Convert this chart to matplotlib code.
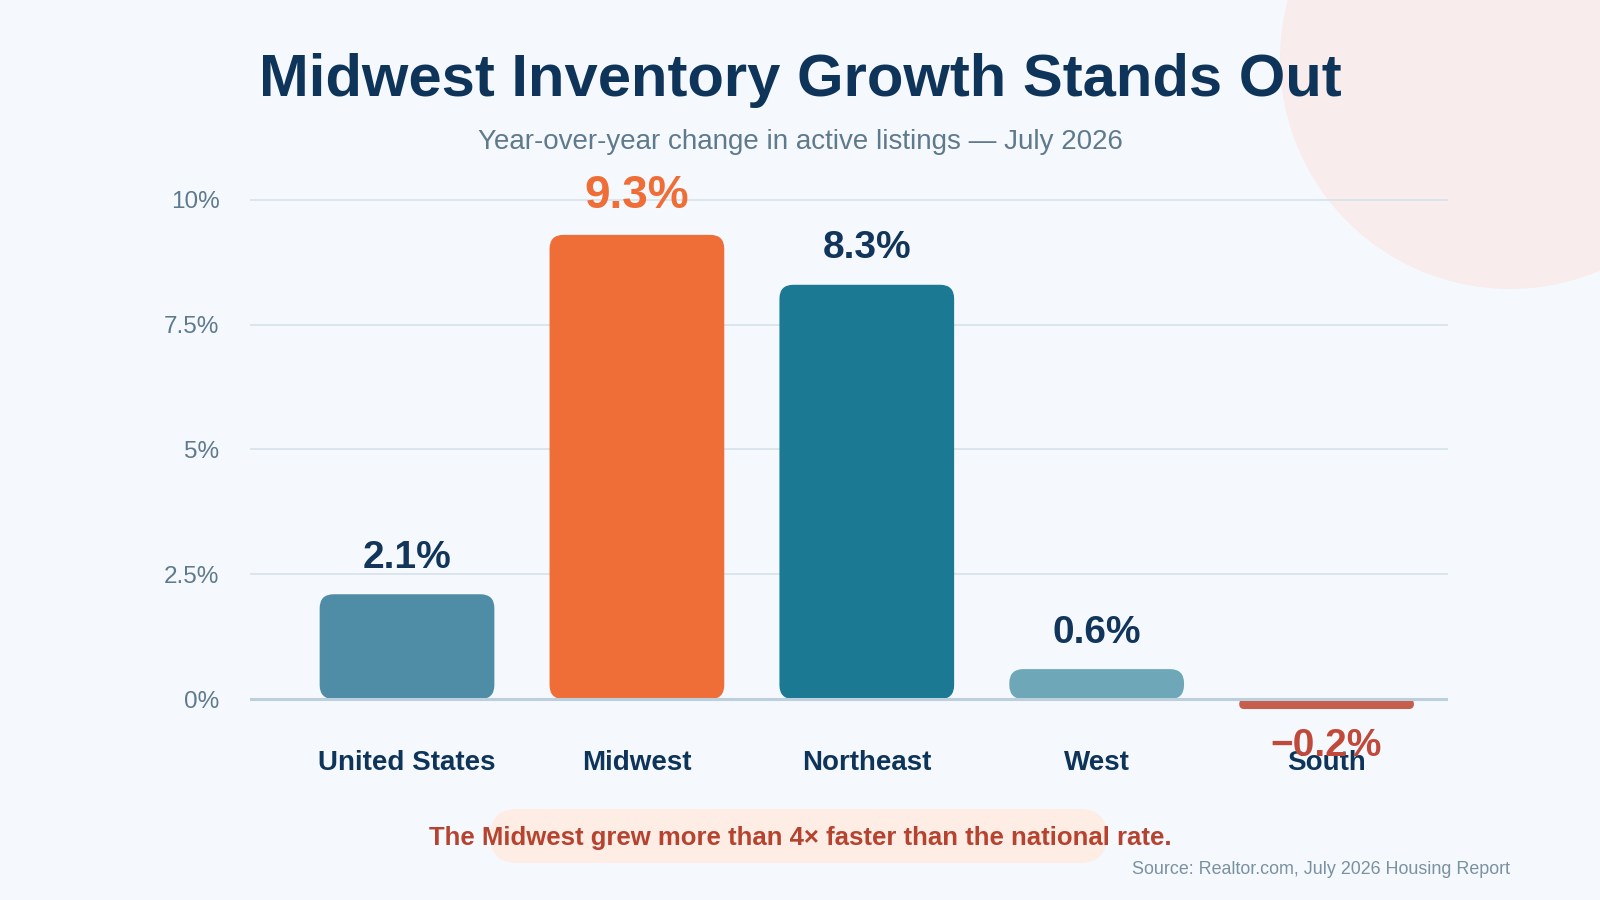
import matplotlib
matplotlib.use("Agg")
import matplotlib.pyplot as plt
from matplotlib.patches import FancyBboxPatch, Ellipse

plt.rcParams['font.family'] = ['Liberation Sans', 'DejaVu Sans']

# data
regions = ["United States", "Midwest", "Northeast", "West", "South"]
changes = [2.1, 9.3, 8.3, 0.6, -0.2]
bar_colors = ["#4F8DA6", "#EF6D37", "#1B7994", "#6EA7B8", "#C55E4C"]
label_colors = ["#12355B", "#EF6D37", "#12355B", "#12355B", "#C0493A"]
yticks = [0, 2.5, 5, 7.5, 10]
ytick_labels = ["0%", "2.5%", "5%", "7.5%", "10%"]

BG = "#F5F9FE"
NAVY = "#0F345A"
GREY = "#5F7A8C"

fig = plt.figure(figsize=(16, 9), dpi=100, facecolor=BG)

# soft decorative circle, top right (behind the axes)
fig.patches.append(Ellipse((1510 / 1600, 1 - 59 / 900), 2 * 230 / 1600, 2 * 230 / 900,
                           transform=fig.transFigure, facecolor="#F8ECEC", edgecolor="none", zorder=-1))

ax = fig.add_axes([0.15625, 0.1678, 0.749, 0.6378])
ax.set_facecolor("none")
ax.set_xlim(-0.683, 4.53)
ax.set_ylim(-1, 10.5)

# rounded bars
bar_w = 0.76
p0 = ax.transData.transform((0, 0))
p1 = ax.transData.transform((1, 1))
px_x = p1[0] - p0[0]
px_y = p1[1] - p0[1]
for i, (v, c) in enumerate(zip(changes, bar_colors)):
    h_px = abs(v) * px_y
    r_px = min(14, h_px / 2)
    y0 = min(0, v)
    box = FancyBboxPatch((i - bar_w / 2, y0), bar_w, abs(v),
                         boxstyle=f"round,pad=0,rounding_size={r_px / px_x}",
                         mutation_aspect=px_x / px_y,
                         facecolor=c, edgecolor="none", zorder=3)
    ax.add_patch(box)

# value labels
for i, v in enumerate(changes):
    txt = f"{v:.1f}%" if v >= 0 else f"\u2212{abs(v):.1f}%"
    size = 33 if i == 1 else 28
    if v >= 0:
        ax.annotate(txt, (i, v), xytext=(0, 19), textcoords="offset points",
                    ha="center", va="baseline", fontsize=size, fontweight="bold",
                    color=label_colors[i], zorder=5)
    else:
        ax.annotate(txt, (i, v), xytext=(0, -34), textcoords="offset points",
                    ha="center", va="baseline", fontsize=size, fontweight="bold",
                    color=label_colors[i], zorder=6, annotation_clip=False)

# category labels
for i, name in enumerate(regions):
    ax.text(i, -1.42, name, ha="center", va="baseline", fontsize=20,
            fontweight="bold", color=NAVY, zorder=5, clip_on=False)

# grid + axes styling
ax.set_yticks(yticks)
ax.set_yticklabels(ytick_labels)
ax.set_xticks([])
for y in yticks[1:]:
    ax.axhline(y, color="#D8E4EA", linewidth=1.3, zorder=1)
ax.axhline(0, color="#BCCFDC", linewidth=2.2, zorder=4)
ax.tick_params(axis="y", length=0, pad=22, labelsize=17.5, labelcolor=GREY)
for s in ax.spines.values():
    s.set_visible(False)

# titles
fig.text(0.5, 1 - 81 / 900, "Midwest Inventory Growth Stands Out", ha="center", va="center",
         fontsize=43, fontweight="bold", color=NAVY)
fig.text(0.5, 1 - 142 / 900, "Year-over-year change in active listings \u2014 July 2026",
         ha="center", va="center", fontsize=20, color=GREY)

# callout pill
fig.patches.append(FancyBboxPatch((490 / 1600, 1 - 863 / 900), 617 / 1600, 54 / 900,
                                  boxstyle="round,pad=0,rounding_size=0.016875",
                                  mutation_aspect=1600 / 900,
                                  transform=fig.transFigure, facecolor="#FDEDE5",
                                  edgecolor="none", zorder=1))
fig.text(0.5, 1 - 838 / 900, "The Midwest grew more than 4\u00d7 faster than the national rate.",
         ha="center", va="center", fontsize=18.5, fontweight="bold", color="#B5432F", zorder=2)

fig.text(1510 / 1600, 1 - 869 / 900, "Source: Realtor.com, July 2026 Housing Report",
         ha="right", va="center", fontsize=12.9, color="#7A91A0")

fig.savefig("out.png", dpi=100, facecolor=BG)
